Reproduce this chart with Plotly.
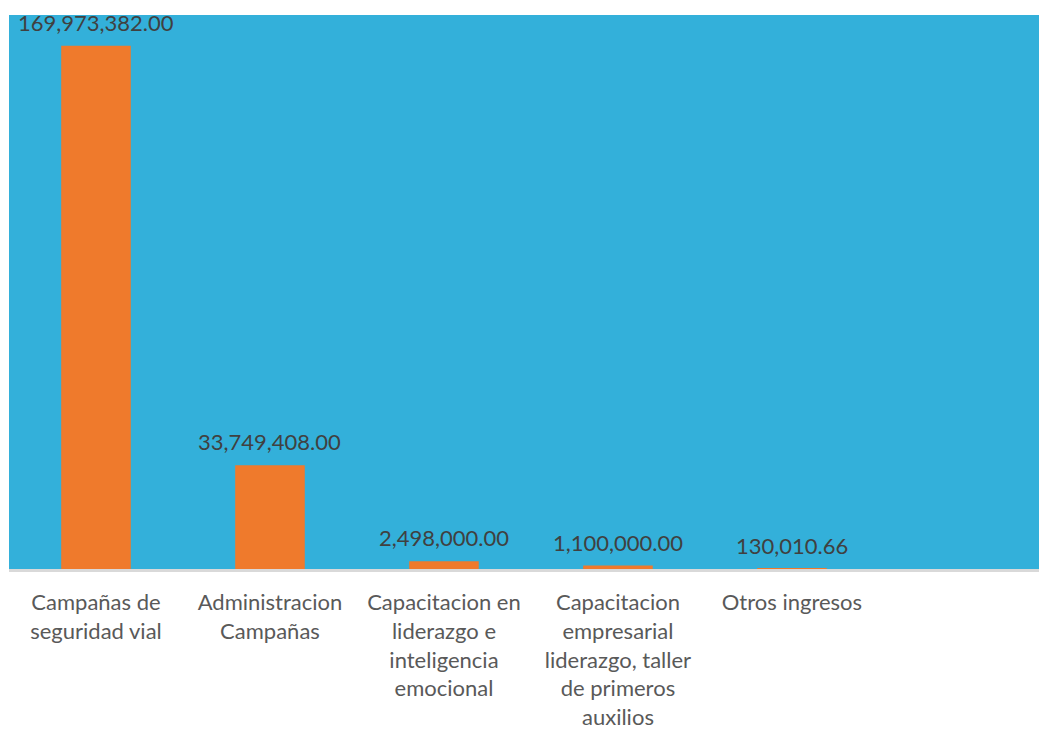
import plotly.graph_objects as go

categories = [
    "Campañas de<br>seguridad vial",
    "Administracion<br>Campañas",
    "Capacitacion en<br>liderazgo e<br>inteligencia<br>emocional",
    "Capacitacion<br>empresarial<br>liderazgo, taller<br>de primeros<br>auxilios",
    "Otros ingresos",
]
values = [169973382.00, 33749408.00, 2498000.00, 1100000.00, 130010.66]
labels = [f"{v:,.2f}" for v in values]

FONT = "Lato"

fig = go.Figure(
    go.Bar(
        x=categories,
        y=values,
        marker=dict(color="#EF7A2C", line=dict(width=0)),
        width=0.4,
        cliponaxis=False,
        hoverinfo="skip",
    )
)

for c, v, t in zip(categories, values, labels):
    fig.add_annotation(
        x=c,
        y=v,
        text=t,
        showarrow=False,
        yanchor="bottom",
        yshift=8,
        font=dict(family=FONT, size=22, color="#404040"),
    )

fig.update_layout(
    width=1039,
    height=722,
    margin=dict(l=1, r=0, t=7, b=154),
    paper_bgcolor="white",
    plot_bgcolor="#33B0DA",
    showlegend=False,
)
fig.update_xaxes(
    type="category",
    range=[-0.5, 5.466],
    showgrid=False,
    showline=True,
    linecolor="#D9D9D9",
    linewidth=3,
    ticks="",
    ticklabelstandoff=12,
    tickfont=dict(family=FONT, size=22, color="#595959"),
    fixedrange=True,
)
fig.update_yaxes(
    range=[0, 180000000],
    visible=False,
    showgrid=False,
    zeroline=False,
    fixedrange=True,
)

fig.write_html("out.html", config={"displayModeBar": False})
